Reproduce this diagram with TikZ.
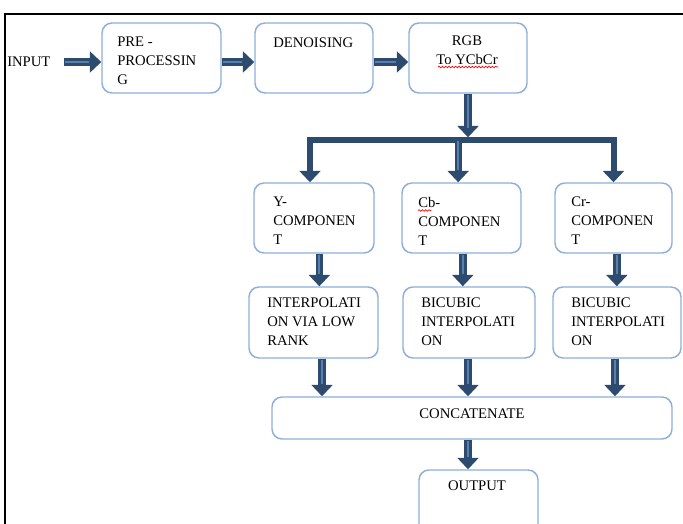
\documentclass[tikz,border=0pt]{standalone}
\usepackage{fontspec}
\setmainfont{Liberation Serif}
\usetikzlibrary{arrows.meta,decorations.pathmorphing}
\definecolor{arrowblue}{HTML}{2D4A6F}
\definecolor{arrowlight}{HTML}{5B7FAD}
\definecolor{boxblue}{HTML}{8DAFD9}
\tikzset{
    block/.style={draw=boxblue, line width=1.1pt, rounded corners=7.5pt, fill=white, inner sep=0pt},
    flow/.style={draw=arrowblue, line width=5.5pt, -{Triangle[length=8.5pt,width=15.5pt]},
        postaction={draw=arrowlight, line width=1.6pt, -, shorten <=1pt, shorten >=9pt}},
    bus/.style={draw=arrowblue, line width=4.5pt, line join=miter},
    txt/.style={anchor=north west, inner sep=0pt, align=left, font=\fontsize{11}{14.25}\selectfont},
    squiggle/.style={draw=red, line width=0.5pt, decorate, decoration={snake, amplitude=0.6pt, segment length=2.5pt}}
}
\begin{document}
\begin{tikzpicture}[x=0.75pt,y=-0.75pt]
        \useasboundingbox (0,0) rectangle (683,524);
        % Frame
        \draw[line width=2.2pt] (5,524) -- (5,14) -- (683,14);

        % First row
        \node[txt, anchor=west] (in) at (7,62) {INPUT};
        \node[block, minimum width=89.25pt, minimum height=52.5pt] (pre) at (161.5,58) {};
        \node[block, minimum width=88.5pt, minimum height=52.5pt] (den) at (314,58) {};
        \node[block, minimum width=88.5pt, minimum height=52.5pt] (rgb) at (468,58) {};
        \node[txt] (pre-t) at (117,37) {PRE -\\PROCESSIN\\G};
        \node[txt] (den-t) at (273,38) {DENOISING};
        \node[txt, anchor=north, align=center] (rgb-t) at (467,36) {RGB\\To YCbCr};
        \draw[squiggle] (438,67) -- (498,67);
        % Arrows
        \draw[flow] ([xshift=10pt]in.east) -- (in.east -| pre.west);
        \draw[flow] (pre.east |- in.east) -- (den.west |- in.east);
        \draw[flow] (den.east |- in.east) -- (rgb.west |- in.east);

        % Components
        \node[block, minimum width=90pt, minimum height=52.5pt] (yc) at (314,218) {};
        \node[block, minimum width=89.25pt, minimum height=52.5pt] (cbc) at (461.5,218) {};
        \node[block, minimum width=87.75pt, minimum height=52.5pt] (crc) at (613.5,218) {};
        \node[txt] (yc-t) at (273,197) {Y-\\COMPONEN\\T};
        \node[txt] (cbc-t) at (418,197) {Cb-\\COMPONEN\\T};
        \node[txt] (crc-t) at (571,197) {Cr-\\COMPONEN\\T};
        \draw[squiggle] (418,210.5) -- (431,210.5);
        % Split
        \coordinate (split) at (0,140);
        \draw[flow, shorten >=2pt] (rgb.south) -- (rgb.south |- split);
        \draw[bus, {Triangle[length=8.5pt,width=15.5pt]}-{Triangle[length=8.5pt,width=15.5pt]}]
            ([xshift=-3pt]yc.north) -- ([xshift=-3pt]yc.north |- split) -- (crc.north |- split) -- (crc.north);
        \draw[flow] ([xshift=-2.5pt]cbc.north |- split) -- ([xshift=-2.5pt]cbc.north);

        % Interpolation
        \node[block, minimum width=96.75pt, minimum height=53.25pt] (yi) at (313.5,322.5) {};
        \node[block, minimum width=99pt, minimum height=53.25pt] (cbi) at (469,322.5) {};
        \node[block, minimum width=96pt, minimum height=53.25pt] (cri) at (617,322.5) {};
        \node[txt] (yi-t) at (267,298) {INTERPOLATI\\ON VIA LOW\\RANK};
        \node[txt] (cbi-t) at (421,298) {BICUBIC\\INTERPOLATI\\ON};
        \node[txt] (cri-t) at (571,298) {BICUBIC\\INTERPOLATI\\ON};
        \foreach \a/\b/\dx in {yc/yi/4pt, cbc/cbi/1pt, crc/cri/2.5pt} {
                \draw[flow] ([xshift=\dx]\a.south) -- ([xshift=\dx]\a.south |- \b.north);
            }

        % Concatenate and output
        \node[block, minimum width=300pt, minimum height=31.5pt] (cat) at (472,418) {};
        \node[txt, anchor=center] (cat-t) at (472,414) {CONCATENATE};
        \node[block, minimum width=89.25pt, minimum height=52.5pt] (out) at (478.5,505) {};
        \node[txt, anchor=center] (out-t) at (477,486) {OUTPUT};
        \foreach \a/\dx in {yi/6.4pt, cbi/-0.75pt, cri/-1.5pt} {
                \draw[flow] ([xshift=\dx]\a.south) -- ([xshift=\dx]\a.south |- cat.north);
            }
        \draw[flow] ([xshift=-3pt]cat.south) -- ([xshift=-3pt]cat.south |- out.north);
    \end{tikzpicture}
\end{document}
